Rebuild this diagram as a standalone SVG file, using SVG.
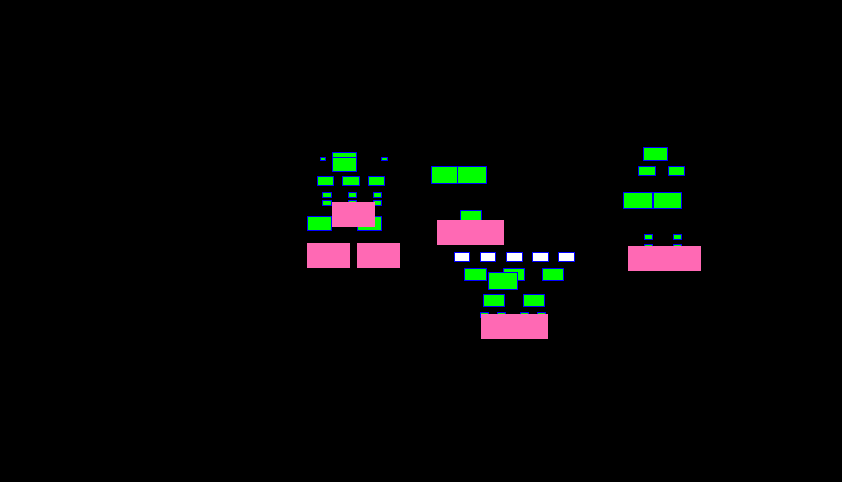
<svg xmlns="http://www.w3.org/2000/svg" width="842" height="482" viewBox="0 0 842 482">
<style>
.g{fill:#00ff00;stroke:#0000ff;stroke-width:1}
.w{fill:#ffffff;stroke:#0000ff;stroke-width:1}
.p{fill:#ff69b4;stroke:none}
</style>
<rect width="842" height="482" fill="#000000"/>
<g id="cluster1">
<rect class="g" x="320.5" y="157.5" width="5" height="3"/>
<rect class="g" x="332.5" y="152.5" width="24" height="5"/>
<rect class="g" x="332.5" y="157.5" width="24" height="14"/>
<rect class="g" x="381.5" y="157.5" width="6" height="3"/>
<rect class="g" x="317.5" y="176.5" width="16" height="9"/>
<rect class="g" x="342.5" y="176.5" width="17" height="9"/>
<rect class="g" x="368.5" y="176.5" width="16" height="9"/>
<rect class="g" x="322.5" y="192.5" width="9" height="5"/>
<rect class="g" x="348.5" y="192.5" width="8" height="5"/>
<rect class="g" x="373.5" y="192.5" width="8" height="5"/>
<rect class="g" x="322.5" y="200.5" width="9" height="5"/>
<rect class="g" x="348.5" y="200.5" width="8" height="5"/>
<rect class="g" x="373.5" y="200.5" width="8" height="5"/>
<rect class="g" x="307.5" y="216.5" width="24" height="14"/>
<rect class="g" x="357.5" y="216.5" width="24" height="14"/>
<rect class="p" x="332" y="202" width="43" height="25"/>
<rect class="p" x="307" y="243" width="43" height="25"/>
<rect class="p" x="357" y="243" width="43" height="25"/>
</g>
<g id="cluster2">
<rect class="g" x="431.5" y="166.5" width="26" height="17"/>
<rect class="g" x="457.5" y="166.5" width="29" height="17"/>
<rect class="g" x="460.5" y="210.5" width="21" height="12"/>
<rect class="p" x="437" y="220" width="67" height="25"/>
</g>
<g id="cluster3">
<rect class="w" x="454.5" y="252.5" width="15" height="9"/>
<rect class="w" x="480.5" y="252.5" width="15" height="9"/>
<rect class="w" x="506.5" y="252.5" width="16" height="9"/>
<rect class="w" x="532.5" y="252.5" width="16" height="9"/>
<rect class="w" x="558.5" y="252.5" width="16" height="9"/>
<rect class="g" x="464.5" y="268.5" width="22" height="12"/>
<rect class="g" x="503.5" y="268.5" width="21" height="12"/>
<rect class="g" x="542.5" y="268.5" width="21" height="12"/>
<rect class="g" x="488.5" y="272.5" width="29" height="17"/>
<rect class="g" x="483.5" y="294.5" width="21" height="12"/>
<rect class="g" x="523.5" y="294.5" width="21" height="12"/>
<rect class="g" x="480.5" y="312.5" width="8" height="5"/>
<rect class="g" x="497.5" y="312.5" width="8" height="5"/>
<rect class="g" x="520.5" y="312.5" width="8" height="5"/>
<rect class="g" x="537.5" y="312.5" width="8" height="5"/>
<rect class="p" x="481" y="314" width="67" height="25"/>
</g>
<g id="cluster4">
<rect class="g" x="643.5" y="147.5" width="24" height="13"/>
<rect class="g" x="638.5" y="166.5" width="17" height="9"/>
<rect class="g" x="668.5" y="166.5" width="16" height="9"/>
<rect class="g" x="623.5" y="192.5" width="29" height="16"/>
<rect class="g" x="653.5" y="192.5" width="28" height="16"/>
<rect class="g" x="644.5" y="234.5" width="8" height="5"/>
<rect class="g" x="673.5" y="234.5" width="8" height="5"/>
<rect class="g" x="644.5" y="244.5" width="8" height="5"/>
<rect class="g" x="673.5" y="244.5" width="8" height="5"/>
<rect class="p" x="628" y="246" width="73" height="25"/>
</g>
</svg>
